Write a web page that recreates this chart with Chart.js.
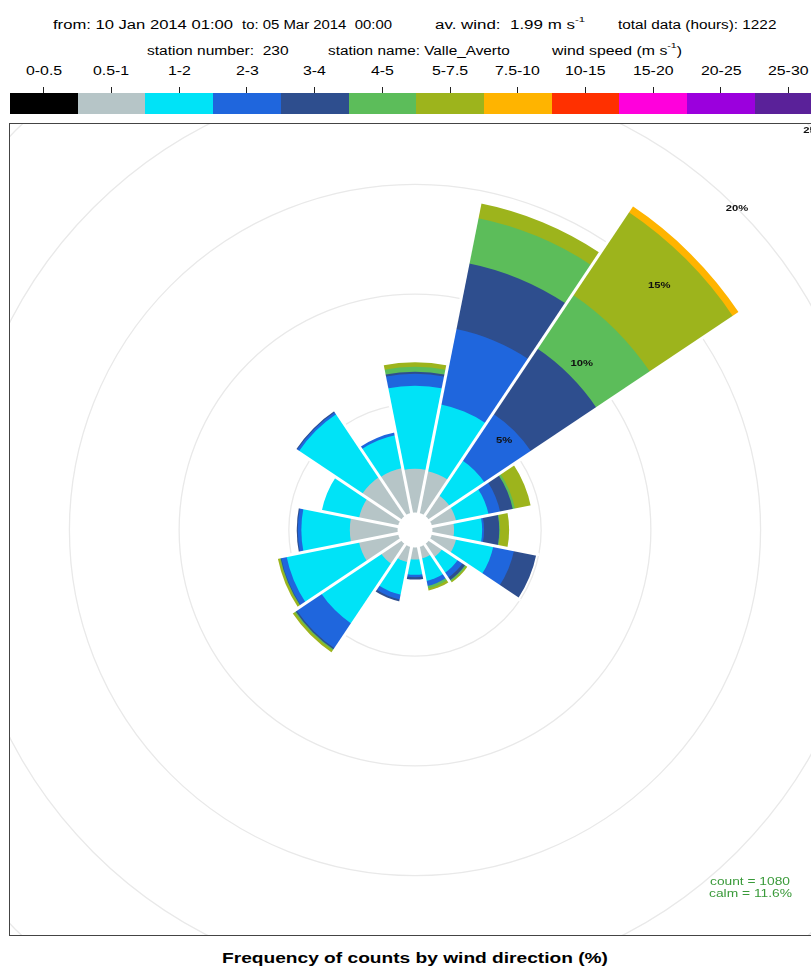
<!DOCTYPE html>
<html><head><meta charset="utf-8">
<script src="https://cdn.jsdelivr.net/npm/chart.js@4.4.1/dist/chart.umd.min.js"></script>
<style>
html,body{margin:0;padding:0;width:811px;height:972px;overflow:hidden;background:#fff;font-family:"Liberation Sans",Arial,sans-serif;}
.t{position:absolute;white-space:pre;font-size:12px;color:#000;transform-origin:0 0;line-height:1;}
.t sup{font-size:8px;vertical-align:top;position:relative;top:-3px;line-height:1;}
#box{position:absolute;left:10px;top:124px;width:812px;height:811px;overflow:hidden;}
#frame{position:absolute;left:9px;top:123px;width:814px;height:813px;border:1.5px solid #444;box-sizing:border-box;pointer-events:none;}
#rose{position:absolute;left:-160px;top:-159px;}
.cell{position:absolute;top:93px;height:21px;}
.tick{position:absolute;top:87px;width:1px;height:6px;background:#222;}
</style></head><body>
<div id="box"><canvas id="rose" width="1130" height="1130" style="width:1130px;height:1130px"></canvas></div>
<div id="frame"></div>
<script>
// ---- data ----
const directions = [0, 22.5, 45, 67.5, 90, 112.5, 135, 157.5, 180, 202.5, 225, 247.5, 270, 292.5, 315, 337.5];
const speedBins = ['0-0.5','0.5-1','1-2','2-3','3-4','4-5','5-7.5','7.5-10','10-15','15-20','20-25','25-30'];
// frequency (%) of each speed bin per direction
const f_0_05   = [0,0,0,0,0,0,0,0,0,0,0,0,0,0,0,0];
const f_05_1   = [2.04,1.99,1.17,1.17,1.03,1.17,0.76,0.58,0.60,0.76,1.13,1.86,2.22,1.86,2.17,2.13];
const f_1_2    = [3.78,3.10,1.92,1.51,1.28,1.73,0.87,1.05,0.69,1.51,3.28,3.37,2.21,1.73,3.47,1.53];
const f_2_3    = [0.55,3.51,2.55,0.54,0.09,0.96,0.27,0.23,0.11,0.22,1.36,0.25,0.16,0,0.11,0.13];
const f_3_4    = [0.09,3.05,3.58,0.59,0.69,1.03,0.14,0,0.11,0.09,0.07,0.03,0.05,0,0.05,0];
const f_4_5    = [0.23,2.10,2.94,0.10,0.04,0,0.06,0.11,0,0,0.05,0.03,0,0,0,0];
const f_5_75   = [0.20,0.68,4.55,0.73,0.41,0,0.07,0.11,0,0,0.11,0.10,0,0,0,0];
const f_75_10  = [0,0,0.32,0,0,0,0,0,0,0,0,0,0,0,0,0];
const f_10_15  = [0,0,0,0,0,0,0,0,0,0,0,0,0,0,0,0];
const f_15_20  = [0,0,0,0,0,0,0,0,0,0,0,0,0,0,0,0];
const f_20_25  = [0,0,0,0,0,0,0,0,0,0,0,0,0,0,0,0];
const f_25_30  = [0,0,0,0,0,0,0,0,0,0,0,0,0,0,0,0];
const radialTicks = [5, 10, 15, 20, 25];
const stationNumber = 230, stationName = 'Valle_Averto';
const avWind = 1.99, totalHours = 1222, countN = 1080, calmPct = 11.6;

// ---- styles ----
const binColors = ['#000000','#b6c5c7','#00e3f7','#1f66dd','#2e4e8e','#5cbd5a','#9db41c','#ffb400','#ff3000','#ff00dc','#9b00dd','#5a2199'];
const bands = [f_0_05,f_05_1,f_1_2,f_2_3,f_3_4,f_4_5,f_5_75,f_75_10,f_10_15,f_15_20,f_20_25,f_25_30];

// ---- header / legend (HTML text) ----
function addText(html, left, top, width, opts) {
  const el = document.createElement('div');
  el.className = 't';
  el.innerHTML = html;
  if (opts && opts.style) Object.assign(el.style, opts.style);
  el.style.left = left + 'px'; el.style.top = top + 'px';
  document.body.appendChild(el);
  const w = el.getBoundingClientRect().width;
  let k = width ? width / w : (opts && opts.k) || 1.3;
  if (opts && opts.center) el.style.left = (left - w * k / 2) + 'px';
  el.style.transform = 'scaleX(' + k + ')';
  return el;
}
addText('from: 10 Jan 2014 01:00', 53.3, 19, 180);
addText('to: 05 Mar 2014  00:00', 241.7, 19, 150);
addText('av. wind:  ' + avWind.toFixed(2) + ' m s<sup>-1</sup>', 435, 19, 150);
addText('total data (hours): ' + totalHours, 618.3, 19, 158.4);
addText('station number:  ' + stationNumber, 146.7, 45, 141.6);
addText('station name: ' + stationName, 328.3, 45, 181.7);
addText('wind speed (m s<sup>-1</sup>)', 551.7, 45, 130);

const cellW = 67.7, cellX0 = 10;
speedBins.forEach((lab, i) => {
  const c = document.createElement('div');
  c.className = 'cell';
  c.style.left = (cellX0 + i * cellW) + 'px';
  c.style.width = (cellW + 0.6) + 'px';
  c.style.background = binColors[i];
  document.body.appendChild(c);
  const cx = cellX0 + (i + 0.5) * cellW;
  const tk = document.createElement('div');
  tk.className = 'tick'; tk.style.left = (cx - 0.5) + 'px';
  document.body.appendChild(tk);
  addText(lab, cx, 65, null, {center: true, k: 1.32});
});

addText('count = ' + countN, 710, 877, 80, {style: {fontSize: '10px', color: '#3a9a3a'}});
addText('calm = ' + calmPct.toFixed(1) + '%', 709, 888.5, 83, {style: {fontSize: '10px', color: '#3a9a3a'}});
addText('Frequency of counts by wind direction (%)', 222, 951, 386, {style: {fontSize: '14px', fontWeight: 'bold'}});

// ---- wind rose ----
const datasets = bands.map((band, b) => ({
  label: speedBins[b],
  data: directions.map((_, i) => bands.slice(0, b + 1).reduce((s, arr) => s + arr[i], 0)),
  backgroundColor: ctx => band[ctx.dataIndex] > 0 ? binColors[b] : 'rgba(0,0,0,0)',
  borderWidth: 0
}));
const totals = directions.map((_, i) => bands.reduce((s, arr) => s + arr[i], 0));

const rosePlugin = {
  id: 'roseExtras',
  afterDatasetsDraw(chart) {
    const s = chart.scales.r, ctx = chart.ctx;
    const cx = s.xCenter, cy = s.yCenter, n = directions.length, step = 360 / n;
    ctx.save();
    ctx.strokeStyle = '#ffffff'; ctx.lineWidth = 3; ctx.lineCap = 'butt';
    for (let i = 0; i < n; i++) {
      const a = (directions[i] - step / 2 - 90) * Math.PI / 180;
      const rr = s.getDistanceFromCenterForValue(Math.max(totals[i], totals[(i - 1 + n) % n])) + 3;
      ctx.beginPath(); ctx.moveTo(cx, cy);
      ctx.lineTo(cx + rr * Math.cos(a), cy + rr * Math.sin(a)); ctx.stroke();
    }
    ctx.fillStyle = '#ffffff';
    ctx.beginPath(); ctx.arc(cx, cy, s.getDistanceFromCenterForValue(0) + 1, 0, Math.PI * 2); ctx.fill();
    ctx.fillStyle = '#111'; ctx.font = 'bold 9px "Liberation Sans", Arial, sans-serif';
    ctx.textAlign = 'center'; ctx.textBaseline = 'middle';
    radialTicks.forEach(v => {
      const r = s.getDistanceFromCenterForValue(v), a = -Math.PI / 4;
      ctx.save();
      ctx.translate(cx + r * Math.cos(a), cy + r * Math.sin(a));
      ctx.scale(1.25, 1);
      ctx.fillText(v + '%', 0, 0);
      ctx.restore();
    });
    ctx.restore();
  }
};

new Chart(document.getElementById('rose'), {
  type: 'polarArea',
  data: { labels: directions.map(String), datasets },
  options: {
    responsive: false,
    animation: false,
    events: [],
    layout: { padding: 0 },
    plugins: { legend: { display: false }, tooltip: { enabled: false } },
    scales: {
      r: {
        min: -0.75, max: 25,
        startAngle: -11.25,
        ticks: { display: false, stepSize: 5 },
        grid: { circular: true, lineWidth: 1.3, color: c => (c.tick && c.tick.value > 0) ? '#e9e9e9' : 'rgba(0,0,0,0)' },
        angleLines: { display: false },
        pointLabels: { display: false }
      }
    }
  },
  plugins: [rosePlugin]
});
</script>
</body></html>
